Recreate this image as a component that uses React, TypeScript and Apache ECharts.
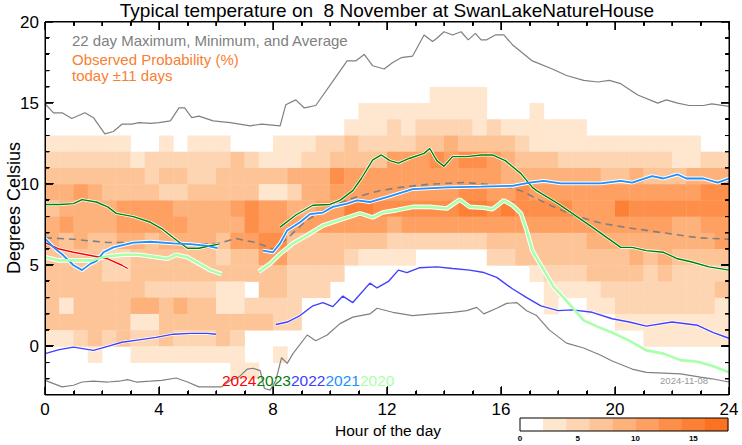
import React, { useEffect, useRef, useState } from "react";
import * as echarts from "echarts";

const FONT = "'Liberation Sans', Arial, Helvetica, sans-serif";
const TITLE = "Typical temperature on  8 November at SwanLakeNatureHouse";
const X_MAJOR = [0, 4, 8, 12, 16, 20, 24];
const X_MINOR = [1, 2, 3, 5, 6, 7, 9, 10, 11, 13, 14, 15, 17, 18, 19, 21, 22, 23];
const Y_TICKS = [0, 5, 10, 15, 20];
const Y_MINOR = [-2, -1, 1, 2, 3, 4, 6, 7, 8, 9, 11, 12, 13, 14, 16, 17, 18, 19];
const CB_EDGES = [0, 2, 4, 6, 8, 10, 12, 14, 16, 18];
const CB_TICKS = [0, 5, 10, 15];
const YEARS = ["2024", "2023", "2022", "2021", "2020"];
const YEAR_COLORS = ["#ff0000", "#008000", "#4040ff", "#1e90ff", "#aaffaa"];
const LEVEL_COLORS = ["#ffffff", "#fee6cf", "#fdd5b2", "#fdc497", "#fdb27c", "#fda062", "#fd8f4a", "#fc8035", "#fa7222"];

// Observed probability (%) per 1 °C bin (bin lower edge in ROW_BASES), 48 half-hour columns
const ROW_BASES = [15, 14, 13, 12, 11, 10, 9, 8, 7, 6, 5, 4, 3, 2, 1, 0, -1, -2];
const P15 = [0,0,0,0,0,0,0,0, 0,0,0,0,0,0,0,0, 0,0,0,0,0,0,0,0, 0,0,0,3,3,3,3,0, 0,0,0,0,0,0,0,0, 0,0,0,0,0,0,0,0];
const P14 = [0,0,0,0,0,0,0,0, 0,0,0,0,0,0,0,0, 0,0,0,0,0,0,3,3, 3,3,3,3,3,3,3,0, 0,0,3,0,0,0,0,0, 0,0,0,0,0,0,0,0];
const P13 = [0,0,0,0,0,0,0,0, 0,0,0,0,0,0,0,0, 0,0,0,0,0,3,3,3, 5,3,5,5,5,5,3,5, 3,3,3,3,3,3,0,0, 0,0,0,0,0,0,0,0];
const P12 = [3,3,3,3,3,3,0,0, 3,0,3,3,3,0,0,0, 3,3,3,5,5,7,5,5, 5,5,7,7,9,7,7,7, 7,5,3,3,3,3,3,3, 3,3,3,3,3,3,0,0];
const P11 = [5,5,5,5,5,5,3,5, 5,5,5,5,5,7,5,3, 3,3,5,5,7,7,7,7, 11,11,11,13,11,13,13,11, 9,7,7,7,5,5,5,5, 5,5,5,5,3,3,5,5];
const P10 = [7,7,7,7,7,7,7,5, 7,7,5,5,7,7,7,7, 7,9,9,9,13,11,11,11, 11,11,11,11,11,11,11,11, 9,9,9,9,9,9,9,7, 7,9,7,7,7,9,9,9];
const P9 = [9,9,11,9,7,7,7,7, 5,5,7,7,7,7,7,3, 3,5,9,9,11,11,11,11, 11,11,11,11,11,13,13,11, 11,13,11,11,11,11,11,11, 11,11,11,11,11,11,13,13];
const P8 = [7,9,9,9,9,11,11,11, 11,9,9,9,9,11,13,11, 11,9,9,11,11,15,15,13, 13,13,13,13,13,15,15,13, 15,13,13,13,13,11,11,11, 15,13,13,13,13,13,13,13];
const P7 = [9,11,9,9,9,11,11,11, 11,11,9,9,9,9,13,11, 11,11,11,11,11,11,11,11, 9,11,11,11,11,11,11,11, 11,11,11,11,11,11,11,11, 11,11,11,11,9,9,11,11];
const P6 = [9,7,9,7,7,9,9,7, 9,9,9,9,7,11,11,13, 13,7,7,7,7,7,7,7, 5,5,5,5,5,5,5,7, 7,7,7,7,7,7,9,9, 9,9,9,9,9,9,9,11];
const P5 = [7,7,7,7,5,5,7,7, 7,7,7,7,5,7,7,11, 11,7,7,7,7,5,3,3, 3,3,0,0,0,0,0,5, 5,7,7,7,7,7,7,7, 7,9,7,9,7,7,7,7];
const P4 = [7,7,7,7,5,5,7,7, 7,7,7,7,7,7,7,7, 7,5,5,5,5,0,0,0, 0,0,0,0,0,0,0,0, 0,0,3,5,5,5,7,7, 7,7,5,7,5,5,5,5];
const P3 = [7,7,7,7,7,7,7,5, 5,5,5,5,3,3,0,7, 7,5,5,5,0,0,0,0, 0,0,0,0,0,0,0,0, 0,0,0,3,3,3,3,5, 5,5,5,5,5,5,5,7];
const P2 = [7,3,7,7,7,7,9,9, 7,9,7,7,3,3,5,5, 5,5,0,0,0,0,0,0, 0,0,0,0,0,0,0,0, 0,0,0,3,0,0,3,3, 5,5,5,5,5,5,5,3];
const P1 = [7,7,7,7,7,7,3,3, 7,7,7,7,7,7,7,7, 5,5,0,0,0,0,0,0, 0,0,0,0,0,0,0,0, 0,0,0,0,0,0,0,0, 3,3,3,3,3,3,3,3];
const P0 = [3,3,5,7,5,7,5,5, 7,5,5,5,7,5,0,0, 0,0,0,0,0,0,0,0, 0,0,0,0,0,0,0,0, 0,0,0,0,0,0,0,0, 0,0,3,3,3,3,3,3];
const PM1 = [0,0,0,3,0,0,3,3, 3,3,3,3,3,3,0,0, 3,0,0,0,0,0,0,0, 0,0,0,0,0,0,0,0, 0,0,0,0,0,0,0,0, 0,0,0,0,0,0,0,0];
const PM2 = [0,0,0,0,0,0,0,0, 0,0,0,0,0,3,3,0, 0,0,0,0,0,0,0,0, 0,0,0,0,0,0,0,0, 0,0,0,0,0,0,0,0, 0,0,0,0,0,0,0,0];
const PROB_ROWS = [P15, P14, P13, P12, P11, P10, P9, P8, P7, P6, P5, P4, P3, P2, P1, P0, PM1, PM2];

// 22-day maximum, minimum and average (hour, °C)
const MAX_T = [[0,14.96],[0.3,14.4],[0.6,14.4],[0.94,14.05],[1.4,14.4],[1.7,14.1],[2.1,13.1],[2.4,13.25],[2.7,13.7],[3.05,13.7],[3.3,13.8],[3.7,13.75],[4.0,13.8],[4.4,13.9],[4.7,14.7],[4.9,14.7],[5.15,14.1],[5.4,14.2],[5.9,13.9],[6.5,13.8],[7.2,13.6],[7.6,13.7],[8.25,13.6],[8.45,14.9],[8.8,15.2],[9.1,14.7],[9.5,14.85],[10.2,16.6],[10.6,17.6],[10.9,17.6],[11.2,18.0],[11.5,17.3],[11.9,17.1],[12.2,17.5],[12.5,17.8],[12.9,17.9],[13.3,19.2],[13.6,18.8],[13.75,19.0],[14.0,19.4],[14.3,19.2],[14.6,19.4],[14.85,18.9],[15.1,19.3],[15.3,18.9],[15.5,18.9],[15.8,19.2],[16.1,19.2],[16.4,18.6],[17.1,17.6],[17.8,17.1],[18.3,16.7],[18.9,16.4],[19.4,16.3],[19.8,16.4],[20.2,16.2],[20.8,15.5],[21.5,15.0],[21.8,15.2],[22.2,15.0],[22.6,14.85],[23.1,14.85],[23.4,14.95],[24,14.8]];
const MIN_T = [[0,-2.1],[0.3,-2.3],[0.6,-2.5],[1.0,-2.4],[1.3,-2.2],[1.7,-2.15],[2.2,-2.2],[2.6,-2.15],[2.9,-2.05],[3.2,-2.2],[3.7,-2.15],[4.1,-2.1],[4.6,-1.95],[5.0,-2.2],[5.4,-2.5],[5.9,-2.5],[6.2,-2.5],[6.5,-2.1],[6.8,-1.9],[7.1,-1.4],[7.3,-1.35],[7.55,-1.5],[7.7,-2.6],[7.9,-2.7],[8.1,-2.1],[8.3,-0.7],[8.5,-1.05],[8.7,-0.45],[9.2,0.7],[9.5,0.35],[9.9,0.7],[10.35,1.4],[10.8,1.8],[11.4,2.0],[11.65,2.35],[12.2,2.1],[12.9,1.9],[13.6,2.0],[14.3,2.1],[14.8,2.2],[15.15,2.4],[15.4,2.0],[15.85,2.35],[16.2,2.65],[16.55,2.7],[16.9,2.2],[17.25,1.9],[17.7,1.0],[18.3,0.2],[18.9,-0.1],[19.5,-0.55],[19.9,-0.9],[20.6,-1.4],[21.1,-1.6],[21.7,-1.65],[22.3,-1.7],[23.0,-1.9],[23.4,-2.0],[24,-2.2]];
const AVG_T = [[0,6.7],[1,6.6],[2.2,6.4],[3.3,6.4],[4.5,6.4],[5.3,6.3],[6.1,6.35],[6.7,6.65],[7.4,6.4],[8.0,6.0],[8.5,6.65],[9.2,7.8],[10,8.6],[10.9,9.2],[11.75,9.6],[12.45,9.8],[13.5,10.0],[14.7,10.1],[15.5,10.0],[16.3,9.8],[16.7,9.6],[17.6,8.8],[18.5,8.1],[19.5,7.6],[20.5,7.3],[21.7,7.0],[22.9,6.7],[24,6.6]];

// Individual years (hour, °C)
const Y2024 = [[0,6.4],[0.5,6.0],[1,5.8],[1.6,5.6],[2.2,5.4],[2.7,5.0],[2.9,4.8]];
const Y2023A = [[0,8.75],[0.5,8.75],[1.0,8.8],[1.3,9.05],[1.8,8.9],[2.2,8.6],[2.5,8.2],[3.1,8.0],[3.7,7.65],[4.1,7.25],[4.5,6.7],[5.0,6.05],[5.4,6.05],[5.8,6.2],[6.1,6.3]];
const Y2023B = [[8.25,7.35],[8.8,8.1],[9.4,8.7],[10,8.75],[10.35,9.0],[10.8,9.6],[11.1,10.35],[11.5,11.5],[11.8,11.8],[12.1,11.45],[12.4,11.3],[12.8,11.6],[13.3,11.9],[13.5,12.2],[13.75,11.45],[14.0,11.1],[14.3,11.7],[14.8,11.7],[15.3,11.8],[15.7,11.8],[16.15,11.45],[16.7,10.65],[17.1,9.8],[17.25,9.6],[18.0,8.8],[18.5,8.2],[19.2,7.35],[20.2,6.1],[20.6,6.1],[21.1,5.9],[21.7,5.8],[22.2,5.4],[22.7,5.2],[23.3,4.9],[24,4.7]];
const Y2022A = [[0,-0.45],[0.5,-0.2],[1.0,-0.05],[1.7,-0.25],[2.2,0.0],[2.7,0.25],[3.3,0.4],[3.9,0.55],[4.5,0.75],[5.1,0.8],[5.7,0.8],[6.0,0.75]];
const Y2022B = [[8.1,1.35],[8.5,1.5],[8.95,1.9],[9.4,2.5],[9.75,2.7],[10.1,2.45],[10.45,3.1],[10.8,2.7],[11.4,3.9],[11.65,3.6],[12.05,4.0],[12.4,4.7],[12.7,4.55],[13.15,4.85],[13.75,4.9],[14.3,4.8],[14.9,4.7],[15.4,4.55],[15.85,4.25],[16.4,3.55],[16.9,3.0],[17.4,2.5],[18.0,2.2],[18.5,2.25],[19.2,2.1],[19.9,1.7],[20.5,1.5],[21.1,1.25],[22.0,1.5],[22.9,1.3],[23.45,0.85],[24,0.5]];
const Y2021A = [[0,6.65],[0.3,6.1],[0.65,5.6],[1.0,5.0],[1.3,4.7],[1.6,5.1],[1.8,5.25],[2.05,5.8],[2.4,6.1],[3.1,6.4],[3.7,6.45],[4.5,6.35],[5.1,6.3],[5.7,6.2],[6.05,6.05]];
const Y2021B = [[7.65,5.9],[8.0,5.8],[8.25,6.35],[8.5,7.15],[8.95,7.65],[9.3,8.15],[9.75,8.25],[10.1,8.6],[10.6,8.8],[10.95,9.0],[11.4,8.9],[12.0,9.2],[12.9,9.7],[14.1,9.8],[15.3,9.85],[16.4,9.9],[17.0,10.1],[17.5,10.2],[18.1,10.05],[18.8,10.05],[19.5,10.05],[20.2,10.2],[20.6,10.1],[21.3,10.5],[21.7,10.35],[22.2,10.6],[22.5,10.35],[23.1,10.35],[23.6,10.1],[24,10.35]];
const Y2020A = [[0,5.5],[0.5,5.3],[1.0,5.3],[1.6,5.3],[2.2,5.55],[2.75,5.65],[3.3,5.65],[3.9,5.5],[4.3,5.4],[4.6,5.65],[5.0,5.5],[5.4,5.1],[5.8,4.7],[6.2,4.45]];
const Y2020B = [[7.5,4.6],[7.9,5.1],[8.25,5.7],[8.7,6.35],[9.2,6.85],[9.75,7.45],[10.35,7.8],[11.05,8.2],[11.5,7.95],[11.85,8.25],[12.35,8.4],[12.9,8.6],[13.5,8.6],[14.1,8.5],[14.55,9.05],[14.9,8.6],[15.4,8.55],[15.7,8.45],[16.1,9.0],[16.4,8.7],[16.7,8.2],[16.9,7.15],[17.1,5.9],[17.5,4.7],[17.85,3.65],[18.2,3.0],[18.5,2.4],[18.9,1.6],[19.4,1.2],[19.9,0.85],[20.5,0.35],[21.1,-0.25],[21.7,-0.45],[22.3,-0.85],[22.9,-0.95],[23.4,-1.2],[24,-1.6]];

const X_MIN = 0, X_MAX = 24, Y_MIN = -3, Y_MAX = 20;
const GRID_W = 684, GRID_H = 373;

function levelColor(v: number): string {
  const lvl = Math.max(0, Math.min(8, Math.floor(v / 2)));
  return LEVEL_COLORS[lvl];
}

// Frame + inward ticks traced as one closed polyline in data units
function framePath(): number[][] {
  const dxPx = (X_MAX - X_MIN) / GRID_W, dyPx = (Y_MAX - Y_MIN) / GRID_H;
  const xt = [...X_MAJOR.map((v) => [v, 8]), ...X_MINOR.map((v) => [v, 4])].sort((a, b) => a[0] - b[0]);
  const yt = [...Y_TICKS.map((v) => [v, 8]), ...Y_MINOR.map((v) => [v, 4])].sort((a, b) => a[0] - b[0]);
  const pts: number[][] = [[X_MIN, Y_MIN]];
  xt.forEach(([v, l]) => { pts.push([v, Y_MIN], [v, Y_MIN + l * dyPx], [v, Y_MIN]); });
  pts.push([X_MAX, Y_MIN]);
  yt.forEach(([v, l]) => { pts.push([X_MAX, v], [X_MAX - l * dxPx, v], [X_MAX, v]); });
  pts.push([X_MAX, Y_MAX]);
  [...xt].reverse().forEach(([v, l]) => { pts.push([v, Y_MAX], [v, Y_MAX - l * dyPx], [v, Y_MAX]); });
  pts.push([X_MIN, Y_MAX]);
  [...yt].reverse().forEach(([v, l]) => { pts.push([X_MIN, v], [X_MIN + l * dxPx, v], [X_MIN, v]); });
  pts.push([X_MIN, Y_MIN]);
  return pts;
}

function buildOption(): any {
  const heat: number[][] = [];
  PROB_ROWS.forEach((row, ri) => {
    row.forEach((v, ci) => {
      if (v >= 2) heat.push([ci * 0.5, ROW_BASES[ri], v]);
    });
  });
  const cbData: number[][] = [];
  for (let i = 0; i < CB_EDGES.length - 1; i++) cbData.push([CB_EDGES[i], CB_EDGES[i + 1]]);

  const yearLine = (data: number[][], color: string, width: number, halo: number) => [
    { type: "line", xAxisIndex: 0, yAxisIndex: 0, data, showSymbol: false, silent: true, z: 3,
      lineStyle: { color: "#ffffff", width: width + halo } },
    { type: "line", xAxisIndex: 0, yAxisIndex: 0, data, showSymbol: false, silent: true, z: 4,
      lineStyle: { color, width } },
  ];
  const grayLine = (data: number[][], dashed: boolean) => ({
    type: "line", xAxisIndex: 0, yAxisIndex: 0, data, showSymbol: false, silent: true, z: 3,
    lineStyle: { color: "#808080", width: dashed ? 1.6 : 1.2, type: dashed ? [7, 5] : "solid" },
  });

  const yearRich: any = {};
  YEARS.forEach((y, i) => {
    yearRich["y" + i] = { fill: YEAR_COLORS[i], fontSize: 15.5, fontFamily: FONT };
  });
  const noLine = { show: false, onZero: false };

  return {
    animation: false,
    grid: [
      { left: 45, top: 22, width: GRID_W, height: GRID_H, show: false },
      { left: 520, top: 418, width: 208, height: 13, show: true, borderColor: "#000", borderWidth: 1, backgroundColor: "transparent", z: 6 },
    ],
    xAxis: [
      { gridIndex: 0, type: "value", min: X_MIN, max: X_MAX, interval: 4, position: "bottom",
        axisLine: noLine, axisTick: { show: false }, splitLine: { show: false },
        axisLabel: { show: true, margin: 6, fontSize: 17, color: "#000", fontFamily: FONT } },
      { gridIndex: 1, type: "value", min: 0, max: 18, position: "bottom",
        axisLine: noLine, axisTick: { show: false }, splitLine: { show: false },
        axisLabel: { show: true, customValues: CB_TICKS, margin: 3, fontSize: 8, color: "#000", fontFamily: FONT, fontWeight: "bold" } },
    ],
    yAxis: [
      { gridIndex: 0, type: "value", min: Y_MIN, max: Y_MAX, position: "left",
        axisLine: noLine, axisTick: { show: false }, splitLine: { show: false },
        axisLabel: { show: true, customValues: Y_TICKS, margin: 6, fontSize: 17, color: "#000", fontFamily: FONT } },
      { gridIndex: 1, type: "value", min: 0, max: 1, show: false },
    ],
    series: [
      {
        type: "custom", xAxisIndex: 0, yAxisIndex: 0, data: heat, z: 1, silent: true,
        renderItem: (_p: any, api: any) => {
          const x0 = api.value(0), y0 = api.value(1), v = api.value(2);
          const p1 = api.coord([x0, y0 + 1]);
          const p2 = api.coord([x0 + 0.5, y0]);
          return {
            type: "rect",
            shape: { x: p1[0], y: p1[1], width: p2[0] - p1[0] + 0.4, height: p2[1] - p1[1] + 0.4 },
            style: { fill: levelColor(v) },
          };
        },
      },
      grayLine(MAX_T, false),
      grayLine(MIN_T, false),
      grayLine(AVG_T, true),
      ...yearLine(Y2022A, YEAR_COLORS[2], 1.4, 1.5),
      ...yearLine(Y2022B, YEAR_COLORS[2], 1.4, 1.5),
      ...yearLine(Y2023A, YEAR_COLORS[1], 1.4, 1.5),
      ...yearLine(Y2023B, YEAR_COLORS[1], 1.4, 1.5),
      ...yearLine(Y2024, YEAR_COLORS[0], 1.4, 1.5),
      ...yearLine(Y2021A, YEAR_COLORS[3], 1.8, 2),
      ...yearLine(Y2021B, YEAR_COLORS[3], 1.8, 2),
      ...yearLine(Y2020A, YEAR_COLORS[4], 2.6, 2),
      ...yearLine(Y2020B, YEAR_COLORS[4], 2.6, 2),
      {
        type: "line", xAxisIndex: 0, yAxisIndex: 0, data: framePath(), showSymbol: false, silent: true,
        clip: false, z: 4, lineStyle: { color: "#000000", width: 1 },
      },
      {
        type: "custom", xAxisIndex: 1, yAxisIndex: 1, data: cbData, z: 2, silent: true,
        renderItem: (_p: any, api: any) => {
          const lo = api.value(0), hi = api.value(1);
          const p1 = api.coord([lo, 1]);
          const p2 = api.coord([hi, 0]);
          return {
            type: "rect",
            shape: { x: p1[0], y: p1[1], width: p2[0] - p1[0] + 0.3, height: p2[1] - p1[1] },
            style: { fill: levelColor(lo + 1) },
          };
        },
      },
    ],
    graphic: [
      { type: "text", x: 387, y: 10, style: { text: TITLE, fontSize: 19, fontFamily: FONT, fill: "#000", textAlign: "center", textVerticalAlign: "middle" } },
      { type: "text", x: 72, y: 40, style: { text: "22 day Maximum, Minimum, and Average", fontSize: 15, fontFamily: FONT, fill: "#808080", textVerticalAlign: "middle" } },
      { type: "text", x: 72, y: 59, style: { text: "Observed Probability (%)", fontSize: 15, fontFamily: FONT, fill: "#f98030", textVerticalAlign: "middle" } },
      { type: "text", x: 72, y: 75, style: { text: "today \u00b111 days", fontSize: 15, fontFamily: FONT, fill: "#f98030", textVerticalAlign: "middle" } },
      { type: "text", x: 14, y: 208, rotation: Math.PI / 2, style: { text: "Degrees Celsius", fontSize: 18, fontFamily: FONT, fill: "#000", textAlign: "center", textVerticalAlign: "middle" } },
      { type: "text", x: 388, y: 430, style: { text: "Hour of the day", fontSize: 15.5, fontFamily: FONT, fill: "#000", textAlign: "center", textVerticalAlign: "middle" } },
      { type: "text", x: 222, y: 380, z: 20, style: { text: YEARS.map((y, i) => `{y${i}|${y}}`).join(""), rich: yearRich, fontSize: 15.5, fontFamily: FONT, textVerticalAlign: "middle" } },
      { type: "text", x: 684, y: 380, z: 20, style: { text: "2024-11-08", fontSize: 9.5, fontFamily: FONT, fill: "#999999", textAlign: "center", textVerticalAlign: "middle" } },
    ],
  };
}

export default function App() {
  const ref = useRef<HTMLDivElement>(null);
  const [framePathD, setFramePathD] = useState("");
  useEffect(() => {
    if (!ref.current) return;
    const chart = echarts.init(ref.current, null, { renderer: "svg" });
    chart.setOption(buildOption());
    // frame + tick marks positioned through the grid's own scales
    const px = framePath().map((p) => chart.convertToPixel({ gridIndex: 0 }, p) as number[]);
    const d = px
      .filter((p) => p && isFinite(p[0]) && isFinite(p[1]))
      .map((p, i) => `${i ? "L" : "M"}${Math.round(p[0]) + 0.5} ${Math.round(p[1]) - 0.5}`)
      .join(" ");
    setFramePathD(d);
    return () => chart.dispose();
  }, []);
  return (
    <div style={{ position: "fixed", left: 0, top: 0, width: 742, height: 445, background: "#fff" }}>
      <div ref={ref} style={{ position: "absolute", left: 0, top: 0, width: 742, height: 445 }} />
      <svg width={742} height={445} style={{ position: "absolute", left: 0, top: 0, pointerEvents: "none" }}>
        {framePathD ? <path d={framePathD} stroke="#000" strokeWidth={1} fill="none" /> : null}
      </svg>
    </div>
  );
}
